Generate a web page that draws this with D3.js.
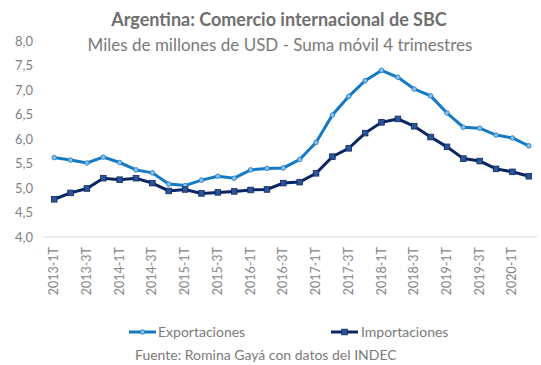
<!DOCTYPE html>
<html>
<head>
<meta charset="utf-8">
<script src="https://cdn.jsdelivr.net/npm/d3@7"></script>
<style>
  body { margin: 0; background: #fff; }
  svg { display: block; font-family: Lato, "Open Sans", sans-serif; }
</style>
</head>
<body>
<div id="chart"></div>
<script>
// quarters 2013-1T .. 2020-2T
let quarters = [];
for (let y = 2013; y <= 2020; y++) {
  for (let q = 1; q <= 4; q++) {
    if (y === 2020 && q > 2) break;
    quarters.push(y + "-" + q + "T");
  }
}

let exportaciones = [5.62, 5.57, 5.51, 5.63, 5.52, 5.37, 5.31, 5.08, 5.05, 5.16,
  5.24, 5.20, 5.37, 5.40, 5.41, 5.58, 5.93, 6.49, 6.87, 7.19,
  7.40, 7.26, 7.02, 6.88, 6.53, 6.24, 6.22, 6.08, 6.02, 5.86];

let importaciones = [4.77, 4.90, 4.99, 5.20, 5.17, 5.20, 5.10, 4.94, 4.97, 4.89,
  4.91, 4.93, 4.96, 4.97, 5.10, 5.12, 5.30, 5.64, 5.81, 6.12,
  6.34, 6.41, 6.26, 6.04, 5.84, 5.60, 5.55, 5.39, 5.33, 5.24];

let yTicks = [4.0, 4.5, 5.0, 5.5, 6.0, 6.5, 7.0, 7.5, 8.0];

let dimensions = {
  width: 541,
  height: 365,
  margin: { top: 41, right: 4, bottom: 128, left: 46 }
};
dimensions.boundedWidth = dimensions.width - dimensions.margin.left - dimensions.margin.right;
dimensions.boundedHeight = dimensions.height - dimensions.margin.top - dimensions.margin.bottom;

let colExp = "#1379c4", colImp = "#0b2563";

let svg = d3.select("#chart").append("svg")
  .attr("width", dimensions.width)
  .attr("height", dimensions.height);

let x = d3.scalePoint()
  .domain(quarters)
  .range([dimensions.margin.left, dimensions.width - dimensions.margin.right])
  .padding(0.5);

let y = d3.scaleLinear()
  .domain([4, 8])
  .range([dimensions.margin.top + dimensions.boundedHeight, dimensions.margin.top]);

// titles
svg.append("text")
  .attr("x", 279).attr("y", 26)
  .attr("text-anchor", "middle")
  .attr("font-size", 18).attr("font-weight", "bold")
  .attr("fill", "#6f6f6f")
  .text("Argentina: Comercio internacional de SBC");

svg.append("text")
  .attr("x", 280).attr("y", 51)
  .attr("text-anchor", "middle")
  .attr("font-size", 17)
  .attr("fill", "#7a7a7a")
  .text("Miles de millones de USD - Suma móvil 4 trimestres");

// y axis labels (no gridlines)
svg.append("g").selectAll("text")
  .data(yTicks)
  .enter().append("text")
  .attr("x", 33)
  .attr("y", d => y(d))
  .attr("dy", "0.35em")
  .attr("text-anchor", "end")
  .attr("font-size", 13)
  .attr("fill", "#7f7f7f")
  .text(d => d3.format(".1f")(d).replace(".", ","));

// baseline
svg.append("line")
  .attr("x1", 44).attr("x2", dimensions.width - dimensions.margin.right)
  .attr("y1", y(4)).attr("y2", y(4))
  .attr("stroke", "#d9d9d9").attr("stroke-width", 1);

// x labels every 2 quarters
svg.append("g").selectAll("text")
  .data(quarters.filter((d, i) => i % 2 === 0))
  .enter().append("text")
  .attr("transform", d => `translate(${x(d) + 4},${y(4) + 10}) rotate(-90)`)
  .attr("text-anchor", "end")
  .attr("font-size", 12.5)
  .attr("fill", "#868686")
  .text(d => d);

let line = d3.line()
  .x((d, i) => x(quarters[i]))
  .y(d => y(d));

svg.append("path")
  .datum(exportaciones)
  .attr("d", line)
  .attr("fill", "none")
  .attr("stroke", colExp)
  .attr("stroke-width", 3);

svg.append("g").selectAll("circle")
  .data(exportaciones)
  .enter().append("circle")
  .attr("cx", (d, i) => x(quarters[i]))
  .attr("cy", d => y(d))
  .attr("r", 2.3)
  .attr("fill", "#8fc0ea")
  .attr("stroke", colExp)
  .attr("stroke-width", 0.8);

svg.append("path")
  .datum(importaciones)
  .attr("d", line)
  .attr("fill", "none")
  .attr("stroke", colImp)
  .attr("stroke-width", 3);

svg.append("g").selectAll("rect")
  .data(importaciones)
  .enter().append("rect")
  .attr("x", (d, i) => x(quarters[i]) - 2.8)
  .attr("y", d => y(d) - 2.8)
  .attr("width", 5.6).attr("height", 5.6)
  .attr("fill", "#2c5597")
  .attr("stroke", colImp)
  .attr("stroke-width", 0.8);

// legend
let legendY = 332;
let legend = svg.append("g");

legend.append("line")
  .attr("x1", 129).attr("x2", 156).attr("y1", legendY).attr("y2", legendY)
  .attr("stroke", colExp).attr("stroke-width", 3);
legend.append("circle")
  .attr("cx", 142.5).attr("cy", legendY).attr("r", 2.3)
  .attr("fill", "#8fc0ea").attr("stroke", colExp).attr("stroke-width", 0.8);
legend.append("text")
  .attr("x", 158).attr("y", legendY).attr("dy", "0.35em")
  .attr("font-size", 14).attr("fill", "#7a7a7a")
  .text("Exportaciones");

legend.append("line")
  .attr("x1", 331).attr("x2", 358).attr("y1", legendY).attr("y2", legendY)
  .attr("stroke", colImp).attr("stroke-width", 3);
legend.append("rect")
  .attr("x", 344.5 - 2.8).attr("y", legendY - 2.8).attr("width", 5.6).attr("height", 5.6)
  .attr("fill", "#2c5597").attr("stroke", colImp).attr("stroke-width", 0.8);
legend.append("text")
  .attr("x", 361).attr("y", legendY).attr("dy", "0.35em")
  .attr("font-size", 14).attr("fill", "#7a7a7a")
  .text("Importaciones");

svg.append("text")
  .attr("x", 135).attr("y", 355).attr("dy", "0.35em")
  .attr("font-size", 14).attr("fill", "#7a7a7a")
  .text("Fuente: Romina Gayá con datos del INDEC");
</script>
</body>
</html>
